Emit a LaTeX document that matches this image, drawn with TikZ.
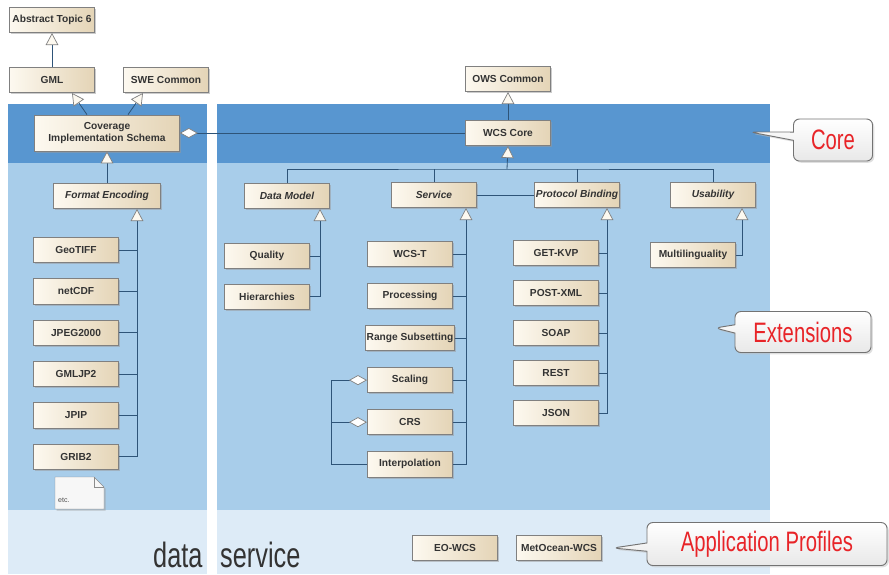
\documentclass[tikz,border=0pt]{standalone}
\usepackage{fontspec}
\setsansfont{Liberation Sans}
\newfontfamily\bigfont[FakeStretch=0.72]{Liberation Sans}
\usetikzlibrary{positioning, arrows.meta, shadows, shapes.callouts}

\definecolor{coreblue}{RGB}{88,150,208}
\definecolor{extblue}{RGB}{168,205,234}
\definecolor{apblue}{RGB}{221,235,247}
\definecolor{boxlight}{RGB}{253,249,240}
\definecolor{boxdark}{RGB}{228,212,182}
\definecolor{wire}{RGB}{46,84,120}
\definecolor{calloutred}{RGB}{232,36,40}

\tikzset{
  cls/.style={draw=black!50, line width=0.6pt, left color=boxlight, right color=boxdark, minimum width=2.56cm, minimum height=0.76cm,
    inner xsep=1pt, font=\sffamily\bfseries\fontsize{8.7}{10}\selectfont, text=black!80,
    drop shadow={shadow xshift=1.4pt, shadow yshift=-1.4pt, fill=black!40}},
  abscls/.style={cls, font=\sffamily\bfseries\itshape\fontsize{8.7}{10}\selectfont},
  link/.style={draw=wire, line width=0.7pt},
  gen/.style={link, -{Triangle[length=0.36cm, width=0.38cm, color=black!50, fill=boxlight, line width=0.6pt]}},
  agg/.style={link, {Diamond[length=0.54cm, width=0.3cm, color=black!50, fill=white, line width=0.6pt]}-},
  remark/.style={rectangle callout, draw=black!55, line width=0.8pt, rounded corners=5pt, top color=white, bottom color=black!9,
    font=\bigfont\fontsize{24}{26}\selectfont, text=calloutred,
    drop shadow={shadow xshift=1.5pt, shadow yshift=-1.5pt, fill=black!25}},
  bigtext/.style={anchor=base west, inner sep=0pt, font=\bigfont\fontsize{30}{32}\selectfont, text=black!80}
}

\begin{document}
\begin{tikzpicture}[x=0.03cm, y=-0.03cm]
  \useasboundingbox (0,0) rectangle (889,574);

  % Panels
  \fill[coreblue] (8,104) rectangle (207,163);
  \fill[extblue] (8,163) rectangle (207,510);
  \fill[apblue] (8,510) rectangle (207,574);
  \fill[coreblue] (217,104) rectangle (770,163);
  \fill[extblue] (217,163) rectangle (770,510);
  \fill[apblue] (217,510) rectangle (770,574);

  % Nodes
  \node (abs) [cls] at (52,20) {Abstract Topic 6};
  \node (gml) [cls] at (52,80) {GML};
  \node (swe) [cls] at (166,80) {SWE Common};
  \node (cis) [cls, minimum width=4.35cm, minimum height=1.08cm, align=center] at (107,133) {Coverage\\Implementation Schema};
  \node (fmt) [abscls, minimum width=3.21cm] at (107,196) {Format Encoding};
  \node (geotiff) [cls] at (76,250) {GeoTIFF};
  \node (netcdf) [cls, below=0.46cm of geotiff] {netCDF};
  \node (jpeg) [cls, below=0.46cm of netcdf] {JPEG2000};
  \node (gmljp2) [cls, below=0.46cm of jpeg] {GMLJP2};
  \node (jpip) [cls, below=0.46cm of gmljp2] {JPIP};
  \node (grib) [cls, below=0.46cm of jpip] {GRIB2};

  \node (ows) [cls] at (508,79) {OWS Common};
  \node (wcs) [cls] at (508,133) {WCS Core};
  \node (dm) [abscls] at (287,196) {Data Model};
  \node (svc) [abscls] at (434,195) {Service};
  \node (pb) [abscls] at (577,195) {Protocol Binding};
  \node (use) [abscls] at (713,195) {Usability};

  \node (quality) [cls] at (267,256) {Quality};
  \node (hier) [cls, below=0.44cm of quality] {Hierarchies};

  \node (wcst) [cls] at (410,254) {WCS-T};
  \node (proc) [cls, below=0.48cm of wcst] {Processing};
  \node (range) [cls, below=0.48cm of proc] {Range Subsetting};
  \node (scale) [cls, below=0.48cm of range] {Scaling};
  \node (crs) [cls, below=0.48cm of scale] {CRS};
  \node (interp) [cls, below=0.48cm of crs] {Interpolation};

  \node (getkvp) [cls] at (556,253) {GET-KVP};
  \node (postxml) [cls, below=0.42cm of getkvp] {POST-XML};
  \node (soap) [cls, below=0.42cm of postxml] {SOAP};
  \node (rest) [cls, below=0.42cm of soap] {REST};
  \node (json) [cls, below=0.42cm of rest] {JSON};

  \node (multi) [cls] at (693,255) {Multilinguality};

  \node (eowcs) [cls] at (455,548) {EO-WCS};
  \node (metocean) [cls] at (559,548) {MetOcean-WCS};

  % etc. note
  \filldraw[draw=black!45, fill=black!3, drop shadow={shadow xshift=1.4pt, shadow yshift=-1.4pt, fill=black!40}]
    (55,477) -- (94,477) -- (104,487) -- (104,509) -- (55,509) -- cycle;
  \draw[black!45] (94,477) -- (94,487) -- (104,487);
  \node (etc) [anchor=base west, inner sep=0pt, font=\sffamily\fontsize{6}{7}\selectfont, text=black!70] at (58,502) {etc.};

  \node (data) [bigtext] at (153,567) {data};
  \node (service) [bigtext] at (220,567) {service};

  % Callouts
  \node (corenote) [remark, minimum width=2.37cm, minimum height=1.26cm, callout absolute pointer={(750,132)}] at (833,140) {Core};
  \node (extnote) [remark, minimum width=4.08cm, minimum height=1.23cm, callout absolute pointer={(715,328)}] at (803,332) {Extensions};
  \node (apnote) [remark, minimum width=7.2cm, minimum height=1.29cm, callout absolute pointer={(613,548)}] at (767,544) {Application Profiles};

  % Edges
  \coordinate (fmtbus) at ([xshift=0.9cm]fmt.south);
  \coordinate (dmbus) at ([xshift=0.99cm]dm.south);
  \coordinate (svcbus) at ([xshift=0.96cm]svc.south);
  \coordinate (pbbus) at ([xshift=0.9cm]pb.south);
  \coordinate (usebus) at ([xshift=0.87cm]use.south);
  \coordinate (bus) at (507,169);

  \draw[gen] (gml) -- (abs);
  \draw[gen] ([xshift=-0.6cm]cis.north) -- ([xshift=0.6cm]gml.south);
  \draw[gen] ([xshift=0.63cm]cis.north) -- ([xshift=-0.69cm]swe.south);
  \draw[gen] (fmt) -- (cis);
  \draw[gen] (grib.east) -| (fmtbus);
  \foreach \n in {geotiff, netcdf, jpeg, gmljp2, jpip}
    \draw[link] (\n.east) -- (\n.east -| fmtbus);

  \draw[agg] (cis.east) -- (wcs.west);
  \draw[gen] (wcs) -- (ows);
  \draw[gen] (bus) -- (wcs.south);
  \draw[link] (dm.north) |- (bus) -| (use.north);
  \draw[link] (svc.north) -- (svc.north |- bus);
  \draw[link] (pb.north) -- (pb.north |- bus);
  \draw[link] (svc) -- (pb);

  \draw[gen] (hier.east) -| (dmbus);
  \draw[link] (quality.east) -- (quality.east -| dmbus);
  \draw[gen] (interp.east) -| (svcbus);
  \foreach \n in {wcst, proc, range, scale, crs}
    \draw[link] (\n.east) -- (\n.east -| svcbus);
  \draw[gen] (json.east) -| (pbbus);
  \foreach \n in {getkvp, postxml, soap, rest}
    \draw[link] (\n.east) -- (\n.east -| pbbus);
  \draw[gen] (multi.east) -| (usebus);

  \draw[agg] (scale.west) -- ++(-36,0) |- (interp.west);
  \draw[agg] (crs.west) -- ++(-36,0);
\end{tikzpicture}
\end{document}
